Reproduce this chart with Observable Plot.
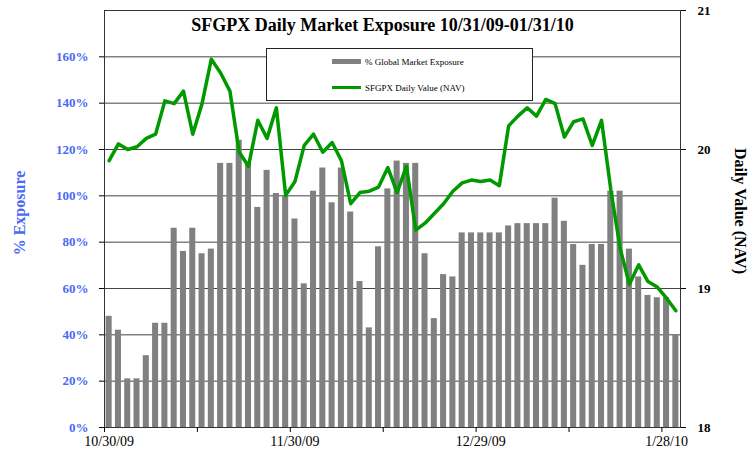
<!DOCTYPE html>
<html>
<head>
<meta charset="utf-8">
<script src="https://cdn.jsdelivr.net/npm/d3@7"></script>
<script src="https://cdn.jsdelivr.net/npm/@observablehq/plot@0.6"></script>
<style>
  html, body { margin: 0; padding: 0; background: #fff; }
  #wrap { position: relative; width: 754px; height: 457px; font-family: "Liberation Serif", "Times New Roman", serif; }
  #wrap svg { position: absolute; left: 0; top: 0; }
  #legend { position: absolute; left: 266px; top: 48px; width: 265px; height: 51px; border: 1px solid #222; background: #fff; }
  #legend .sw1 { position: absolute; left: 65px; top: 10px; width: 29px; height: 5px; background: #808080; }
  #legend .sw2 { position: absolute; left: 65px; top: 37px; width: 29px; height: 3px; background: #009900; }
  #legend .lb { position: absolute; left: 98px; font-size: 9px; line-height: 10px; color: #000; white-space: nowrap; }
</style>
</head>
<body>
<div id="wrap"></div>
<script>
// ---- data ----
const dates = [
  "10/30/09",
  "11/2/09","11/3/09","11/4/09","11/5/09","11/6/09","11/9/09","11/10/09","11/11/09","11/12/09","11/13/09",
  "11/16/09","11/17/09","11/18/09","11/19/09","11/20/09","11/23/09","11/24/09","11/25/09","11/27/09","11/30/09",
  "12/1/09","12/2/09","12/3/09","12/4/09","12/7/09","12/8/09","12/9/09","12/10/09","12/11/09","12/14/09",
  "12/15/09","12/16/09","12/17/09","12/18/09","12/21/09","12/22/09","12/23/09","12/24/09","12/28/09","12/29/09",
  "12/30/09","12/31/09","1/4/10","1/5/10","1/6/10","1/7/10","1/8/10","1/11/10","1/12/10","1/13/10",
  "1/14/10","1/15/10","1/19/10","1/20/10","1/21/10","1/22/10","1/25/10","1/26/10","1/27/10","1/28/10",
  "1/29/10"
];
const exposure = [
  48, 42, 21, 21, 31, 45, 45, 86, 76, 86,
  75, 77, 114, 114, 124, 114, 95, 111, 101, 100,
  90, 62, 102, 112, 97, 112, 93, 63, 43, 78,
  103, 115, 114, 114, 75, 47, 66, 65, 84, 84,
  84, 84, 84, 87, 88, 88, 88, 88, 99, 89,
  79, 70, 79, 79, 102, 102, 77, 65, 57, 56,
  56, 40
];
const nav = [
  19.92, 20.04, 20.00, 20.02, 20.08, 20.11, 20.35, 20.33, 20.42, 20.11,
  20.33, 20.65, 20.55, 20.42, 19.98, 19.88, 20.21, 20.08, 20.30, 19.67,
  19.77, 20.03, 20.11, 19.98, 20.05, 19.92, 19.61, 19.69, 19.70, 19.73,
  19.87, 19.69, 19.88, 19.42, 19.47, 19.54, 19.61, 19.70, 19.76, 19.78,
  19.77, 19.78, 19.74, 20.17, 20.24, 20.30, 20.24, 20.36, 20.33, 20.09,
  20.20, 20.22, 20.03, 20.21, 19.71, 19.29, 19.03, 19.17, 19.05, 19.01,
  18.93, 18.84
];
const labelDates = ["10/30/09", "11/30/09", "12/29/09", "1/28/10"];
const tickDates = ["10/30/09", "11/13/09", "11/30/09", "12/14/09", "12/29/09", "1/13/10", "1/28/10"];
const leftTicks = [0, 20, 40, 60, 80, 100, 120, 140, 160];
const rightTicks = [18, 19, 20, 21];
const titleText = "SFGPX Daily Market Exposure 10/31/09-01/31/10";
const seriesNames = ["% Global Market Exposure", "SFGPX Daily Value (NAV)"];
const leftLabel = "% Exposure";
const rightLabel = "Daily Value (NAV)";

// ---- layout ----
const W = 754, H = 457, ML = 104, MR = 74, MT = 10, MB = 30;
const step = (W - ML - MR) / dates.length;
const font = "'Liberation Serif', 'Times New Roman', serif";
const blue = "#4a69f5";
const rows = dates.map((d, i) => ({date: d, exposure: exposure[i], nav: nav[i]}));
const xOpts = {type: "band", domain: dates, paddingInner: 0.35, paddingOuter: 0.175, round: false};
const common = {width: W, height: H, marginLeft: ML, marginRight: MR, marginTop: MT, marginBottom: MB};

const p1 = Plot.plot({
  ...common,
  style: {fontFamily: font, background: "white", overflow: "visible"},
  x: xOpts,
  y: {domain: [0, 180]},
  marks: [
    Plot.gridY(leftTicks.filter(t => t > 0), {stroke: "#444", strokeOpacity: 1}),
    Plot.barY(rows, {x: "date", y: "exposure", fill: "#808080"}),
    Plot.frame({stroke: "#333"}),
    Plot.axisY(leftTicks, {anchor: "left", tickFormat: d => d + "%", tickSize: 5, tickPadding: 11,
      fill: blue, stroke: "#000", fontSize: 13, fontWeight: "bold", label: null}),
    Plot.axisX(tickDates, {tickFormat: () => "", tickSize: 5, dx: -step / 2, stroke: "#000", label: null}),
    Plot.axisX(labelDates, {tickSize: 0, tickPadding: 9, fontSize: 14, fill: "#000", label: null}),
    Plot.text([leftLabel], {frameAnchor: "left", dx: -85, dy: -6, rotate: -90, textAnchor: "middle",
      lineAnchor: "middle", fontSize: 16, fontWeight: "bold", fill: blue})
  ]
});

const p2 = Plot.plot({
  ...common,
  style: {fontFamily: font, background: "transparent", overflow: "visible"},
  x: {...xOpts, axis: null},
  y: {domain: [18, 21]},
  marks: [
    Plot.lineY(rows, {x: "date", y: "nav", stroke: "#009900", strokeWidth: 3.5, strokeLinejoin: "round"}),
    Plot.axisY(rightTicks, {anchor: "right", tickFormat: d => String(d), tickSize: 5, tickPadding: 12,
      fontSize: 13, fontWeight: "bold", fill: "#000", stroke: "#000", label: null}),
    Plot.text([rightLabel], {frameAnchor: "right", dx: 60, dy: -8, rotate: 90, textAnchor: "middle",
      lineAnchor: "middle", fontSize: 16, fontWeight: "bold", fill: "#000"}),
    Plot.text([titleText], {frameAnchor: "top", dx: -10, dy: 15, textAnchor: "middle", lineAnchor: "middle",
      fontSize: 18, fontWeight: "bold", fill: "#000"})
  ]
});

const wrap = document.getElementById("wrap");
wrap.appendChild(p1);
wrap.appendChild(p2);

const legend = document.createElement("div");
legend.id = "legend";
legend.innerHTML =
  '<div class="sw1"></div><div class="lb" style="top:8px">' + seriesNames[0] + '</div>' +
  '<div class="sw2"></div><div class="lb" style="top:34px">' + seriesNames[1] + '</div>';
wrap.appendChild(legend);
</script>
</body>
</html>
